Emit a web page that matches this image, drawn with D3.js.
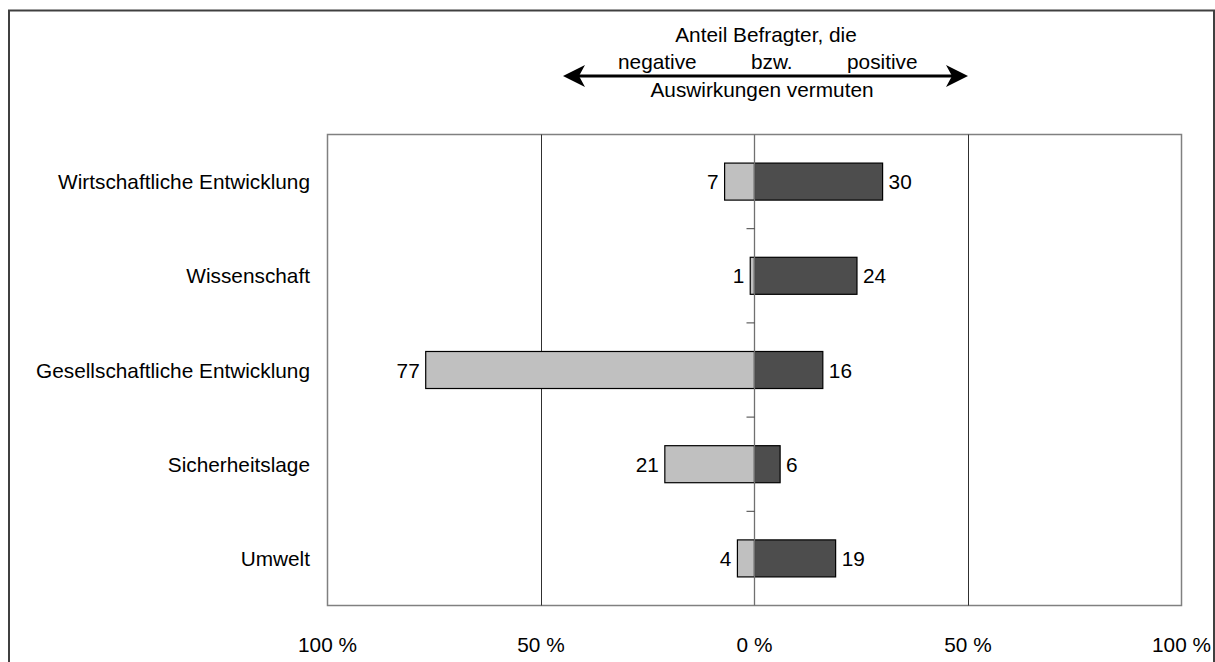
<!DOCTYPE html>
<html><head><meta charset="utf-8">
<script src="https://cdn.jsdelivr.net/npm/d3@7"></script>
<style>
html,body{margin:0;padding:0;background:#fff;}
svg{display:block;font-family:"Liberation Sans",Arial,sans-serif;}
</style></head>
<body>
<svg id="chart" width="1215" height="662"></svg>
<script>
const categories = ["Wirtschaftliche Entwicklung","Wissenschaft","Gesellschaftliche Entwicklung","Sicherheitslage","Umwelt"];
const negativeValues = [7, 1, 77, 21, 4];
const positiveValues = [30, 24, 16, 6, 19];
const tickValues = [-100, -50, 0, 50, 100];
const tickLabels = ["100 %", "50 %", "0 %", "50 %", "100 %"];

const FS = 20.8;
const svg = d3.select("#chart");
const plot = {left: 327.5, right: 1181.5, top: 134.5, bottom: 605.5};

const x = d3.scaleLinear().domain([-100, 100]).range([plot.left, plot.right]);
const y = d3.scaleBand().domain(categories).range([plot.top, plot.bottom])
  .paddingInner(0.607).paddingOuter(0.3035);

// outer frame
svg.append("rect").attr("x", 9).attr("y", 10.5).attr("width", 1205).attr("height", 700)
  .attr("fill", "none").attr("stroke", "#404040").attr("stroke-width", 2);

// plot area border
svg.append("rect").attr("x", plot.left).attr("y", plot.top)
  .attr("width", plot.right - plot.left).attr("height", plot.bottom - plot.top)
  .attr("fill", "none").attr("stroke", "#808080").attr("stroke-width", 1.5);

// gridlines at +-50
svg.selectAll("line.grid").data([-50, 50]).enter().append("line")
  .attr("class", "grid")
  .attr("x1", d => Math.round(x(d)) + 0.5).attr("x2", d => Math.round(x(d)) + 0.5)
  .attr("y1", plot.top).attr("y2", plot.bottom)
  .attr("stroke", "#303030").attr("stroke-width", 1);

// bars
const rows = categories.map((c, i) => ({c, neg: negativeValues[i], pos: positiveValues[i]}));
const g = svg.append("g");
g.selectAll("rect.neg").data(rows).enter().append("rect")
  .attr("x", d => x(-d.neg)).attr("width", d => x(0) - x(-d.neg))
  .attr("y", d => y(d.c)).attr("height", y.bandwidth())
  .attr("fill", "#c0c0c0").attr("stroke", "#000").attr("stroke-width", 1.2);
g.selectAll("rect.pos").data(rows).enter().append("rect")
  .attr("x", x(0)).attr("width", d => x(d.pos) - x(0))
  .attr("y", d => y(d.c)).attr("height", y.bandwidth())
  .attr("fill", "#4d4d4d").attr("stroke", "#000").attr("stroke-width", 1.2);

// center axis line with ticks between categories
svg.append("line").attr("x1", x(0)).attr("x2", x(0))
  .attr("y1", plot.top).attr("y2", plot.bottom)
  .attr("stroke", "#707070").attr("stroke-width", 1.3);
const boundaries = categories.slice(1).map(c => y(c) - y.step() * y.paddingInner() / 2);
svg.selectAll("line.tick").data(boundaries).enter().append("line")
  .attr("x1", x(0) - 8).attr("x2", x(0)).attr("y1", d => d).attr("y2", d => d)
  .attr("stroke", "#404040").attr("stroke-width", 1);

// value labels
g.selectAll("text.neg").data(rows).enter().append("text")
  .attr("x", d => x(-d.neg) - 6).attr("y", d => y(d.c) + y.bandwidth() / 2 + 7.5)
  .attr("text-anchor", "end").attr("font-size", FS).attr("fill", "#000").text(d => d.neg);
g.selectAll("text.pos").data(rows).enter().append("text")
  .attr("x", d => x(d.pos) + 6).attr("y", d => y(d.c) + y.bandwidth() / 2 + 7.5)
  .attr("text-anchor", "start").attr("font-size", FS).attr("fill", "#000").text(d => d.pos);

// category labels
svg.selectAll("text.cat").data(categories).enter().append("text")
  .attr("x", 310).attr("y", d => y(d) + y.bandwidth() / 2 + 7.5)
  .attr("text-anchor", "end").attr("font-size", FS).attr("fill", "#000").text(d => d);

// x-axis labels
svg.selectAll("text.xl").data(tickValues).enter().append("text")
  .attr("x", d => x(d)).attr("y", 652)
  .attr("text-anchor", "middle").attr("font-size", FS).attr("fill", "#000")
  .text((d, i) => tickLabels[i]);

// header annotation
const hdr = svg.append("g").attr("font-size", FS).attr("fill", "#000");
hdr.append("text").attr("x", 766).attr("y", 42).attr("text-anchor", "middle").text("Anteil Befragter, die");
hdr.append("text").attr("x", 618).attr("y", 69).text("negative");
hdr.append("text").attr("x", 751).attr("y", 69).text("bzw.");
hdr.append("text").attr("x", 847).attr("y", 69).text("positive");
hdr.append("text").attr("x", 762).attr("y", 97).attr("text-anchor", "middle").text("Auswirkungen vermuten");

// double arrow
const ay = 76, ax1 = 563, ax2 = 968;
svg.append("line").attr("x1", ax1 + 10).attr("x2", ax2 - 10).attr("y1", ay).attr("y2", ay)
  .attr("stroke", "#000").attr("stroke-width", 3.2);
svg.append("path").attr("d", `M${ax1},${ay} L${ax1+22},${ay-11} L${ax1+16},${ay} L${ax1+22},${ay+11} Z`).attr("fill", "#000");
svg.append("path").attr("d", `M${ax2},${ay} L${ax2-22},${ay-11} L${ax2-16},${ay} L${ax2-22},${ay+11} Z`).attr("fill", "#000");
</script>
</body></html>
